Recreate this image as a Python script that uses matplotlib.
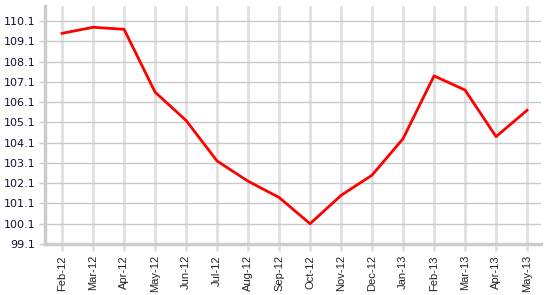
import matplotlib
matplotlib.use('Agg')
import matplotlib.pyplot as plt

meses = ['Feb-12', 'Mar-12', 'Apr-12', 'May-12', 'Jun-12', 'Jul-12', 'Aug-12', 'Sep-12',
         'Oct-12', 'Nov-12', 'Dec-12', 'Jan-13', 'Feb-13', 'Mar-13', 'Apr-13', 'May-13']
valores = [109.5, 109.8, 109.7, 106.6, 105.2, 103.2, 102.2, 101.4,
           100.1, 101.5, 102.5, 104.3, 107.4, 106.7, 104.4, 105.7]
y_ticks = [99.1, 100.1, 101.1, 102.1, 103.1, 104.1, 105.1, 106.1, 107.1, 108.1, 109.1, 110.1]

W, H = 552, 295
fig = plt.figure(figsize=(W / 100, H / 100), dpi=100)
ax = fig.add_axes([45 / W, 1 - 244 / H, (541 - 45) / W, (244 - 6) / H])

x = list(range(len(meses)))
ax.plot(x, valores, color='#ff0000', linewidth=2, zorder=3)

ax.set_xlim(-0.55, 15.45)
ax.set_ylim(99.1, 110.85)
ax.set_xticks(x)
ax.set_xticklabels(meses, rotation=90, fontsize=8, family='Liberation Sans', color='#222222')
ax.set_yticks(y_ticks)
ax.set_yticklabels([f'{v:.1f}' for v in y_ticks], fontsize=8, color='#111133')

ax.yaxis.grid(True, color='#c8c8c8', linewidth=1)
ax.xaxis.grid(True, color='#e0e0e0', linewidth=2)
ax.set_axisbelow(True)

for lado in ['top', 'right']:
    ax.spines[lado].set_visible(False)
for lado in ['left', 'bottom']:
    ax.spines[lado].set_color('#cccccc')
    ax.spines[lado].set_linewidth(2.5)

ax.tick_params(axis='y', length=4, width=1, color='#cccccc', pad=3)
ax.tick_params(axis='x', length=5, width=2, color='#e0e0e0', pad=3)

fig.savefig('out.png', dpi=100)
